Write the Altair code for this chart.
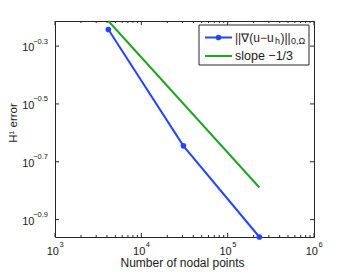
import altair as alt
import pandas as pd

# ---- data ----
nodes = [4150, 30700, 233000]
h1_error = [0.572, 0.2265, 0.1096]
slope_x = [4150, 233000]
slope_y = [0.612, 0.1626]

x_major = [1e3, 1e4, 1e5, 1e6]
x_exps = ["3", "4", "5", "6"]
x_minor = [2e3, 3e3, 4e3, 5e3, 6e3, 7e3, 8e3, 9e3,
           2e4, 3e4, 4e4, 5e4, 6e4, 7e4, 8e4, 9e4,
           2e5, 3e5, 4e5, 5e5, 6e5, 7e5, 8e5, 9e5]
y_major = [0.501187, 0.316228, 0.199526, 0.125893]   # 10^-0.3 .. 10^-0.9
y_exps = ["\u22120.3", "\u22120.5", "\u22120.7", "\u22120.9"]

legend_labels = ["slope \u22121/3"]

W, H = 259, 216
FONT = "Liberation Sans"
TXT = "#1a1a1a"
BLUE = "#2444ff"
GREEN = "#22a322"
FRAME = "#262626"

xs = alt.Scale(type="log", domain=[1000, 1e6], nice=False)
ys = alt.Scale(type="log", domain=[0.1096, 0.612], nice=False)

err_df = pd.DataFrame({"n": nodes, "e": h1_error})
slope_df = pd.DataFrame({"n": slope_x, "e": slope_y})
xmaj_df = pd.DataFrame({"v": x_major, "exp": x_exps, "base": ["10"] * 4})
xmin_df = pd.DataFrame({"v": x_minor})
ymaj_df = pd.DataFrame({"v": y_major, "exp": y_exps, "base": ["10"] * 4})
one = pd.DataFrame({"a": [0]})

X = lambda: alt.X("n:Q", scale=xs, axis=None)
Y = lambda: alt.Y("e:Q", scale=ys, axis=None)

slope_line = alt.Chart(slope_df).mark_line(color=GREEN, strokeWidth=2).encode(x=X(), y=Y())
err_line = alt.Chart(err_df).mark_line(color=BLUE, strokeWidth=2).encode(x=X(), y=Y())
err_pts = alt.Chart(err_df).mark_point(color=BLUE, filled=True, size=32, opacity=1).encode(x=X(), y=Y())

xv = alt.X("v:Q", scale=xs, axis=None)
yv = alt.Y("v:Q", scale=ys, axis=None)

tick_style = dict(color=FRAME, strokeWidth=1)
xt_bot = alt.Chart(xmaj_df).mark_rule(**tick_style).encode(x=xv, y=alt.value(H), y2=alt.value(H - 4))
xt_top = alt.Chart(xmaj_df).mark_rule(**tick_style).encode(x=xv, y=alt.value(0), y2=alt.value(4))
xm_bot = alt.Chart(xmin_df).mark_rule(**tick_style).encode(x=xv, y=alt.value(H), y2=alt.value(H - 2))
xm_top = alt.Chart(xmin_df).mark_rule(**tick_style).encode(x=xv, y=alt.value(0), y2=alt.value(2))
yt_l = alt.Chart(ymaj_df).mark_rule(**tick_style).encode(y=yv, x=alt.value(0), x2=alt.value(4))
yt_r = alt.Chart(ymaj_df).mark_rule(**tick_style).encode(y=yv, x=alt.value(W), x2=alt.value(W - 4))

xl_base = alt.Chart(xmaj_df).mark_text(align="right", baseline="middle", fontSize=11, font=FONT,
                                       color=TXT, dx=4).encode(x=xv, y=alt.value(H + 14.5), text="base:N")
xl_exp = alt.Chart(xmaj_df).mark_text(align="left", baseline="middle", fontSize=7.5, font=FONT,
                                      color=TXT, dx=4.5).encode(x=xv, y=alt.value(H + 8), text="exp:N")
yl_base = alt.Chart(ymaj_df).mark_text(align="right", baseline="middle", fontSize=11, font=FONT,
                                       color=TXT, dy=2).encode(y=yv, x=alt.value(-20.5), text="base:N")
yl_exp = alt.Chart(ymaj_df).mark_text(align="right", baseline="middle", fontSize=7.5, font=FONT,
                                      color=TXT, dy=-4.5).encode(y=yv, x=alt.value(-7), text="exp:N")

x_title = alt.Chart(one).mark_text(align="center", baseline="middle", fontSize=12, font=FONT,
                                   color=TXT, text="Number of nodal points").encode(
    x=alt.value(W / 2 - 2), y=alt.value(H + 26))
y_title = alt.Chart(one).mark_text(align="center", baseline="alphabetic", fontSize=11.5, font=FONT,
                                   color=TXT, angle=270, text="H\u00b9 error").encode(
    x=alt.value(-38.5), y=alt.value(102))

# ---- legend (drawn by hand) ----
leg_box = alt.Chart(one).mark_rect(fill="white", stroke=FRAME, strokeWidth=1).encode(
    x=alt.value(144), x2=alt.value(254), y=alt.value(4), y2=alt.value(44))
leg_blue = alt.Chart(one).mark_rule(color=BLUE, strokeWidth=2).encode(
    x=alt.value(150), x2=alt.value(177), y=alt.value(16.5))
leg_blue_pt = alt.Chart(one).mark_point(color=BLUE, filled=True, size=32, opacity=1).encode(
    x=alt.value(163.5), y=alt.value(16.5))
leg_green = alt.Chart(one).mark_rule(color=GREEN, strokeWidth=2).encode(
    x=alt.value(150), x2=alt.value(177), y=alt.value(35))

lt = dict(align="left", baseline="middle", font=FONT, color=TXT)
leg_t1 = alt.Chart(one).mark_text(fontSize=12, text="||\u2207(u\u2212u", **lt).encode(
    x=alt.value(180), y=alt.value(16.5))
leg_t2 = alt.Chart(one).mark_text(fontSize=9, text="h", **lt).encode(
    x=alt.value(220), y=alt.value(20))
leg_t3 = alt.Chart(one).mark_text(fontSize=12, text=")||", **lt).encode(
    x=alt.value(225.5), y=alt.value(16.5))
leg_t4 = alt.Chart(one).mark_text(fontSize=9, text="0,\u03a9", **lt).encode(
    x=alt.value(236), y=alt.value(20))
leg_t5 = alt.Chart(pd.DataFrame({"t": legend_labels})).mark_text(fontSize=12.5, **lt).encode(
    x=alt.value(180), y=alt.value(35), text="t:N")

chart = alt.layer(
    slope_line, err_line, err_pts,
    xt_bot, xt_top, xm_bot, xm_top, yt_l, yt_r,
    xl_base, xl_exp, yl_base, yl_exp, x_title, y_title,
    leg_box, leg_blue, leg_blue_pt, leg_green, leg_t1, leg_t2, leg_t3, leg_t4, leg_t5,
).properties(
    width=W, height=H,
    autosize=alt.AutoSizeParams(type="none"),
    padding={"left": 47, "top": 13, "right": 24, "bottom": 35},
    background="white",
).configure_view(stroke=FRAME, strokeWidth=1)

chart.save("out.html", embed_options={"renderer": "svg", "actions": False})
